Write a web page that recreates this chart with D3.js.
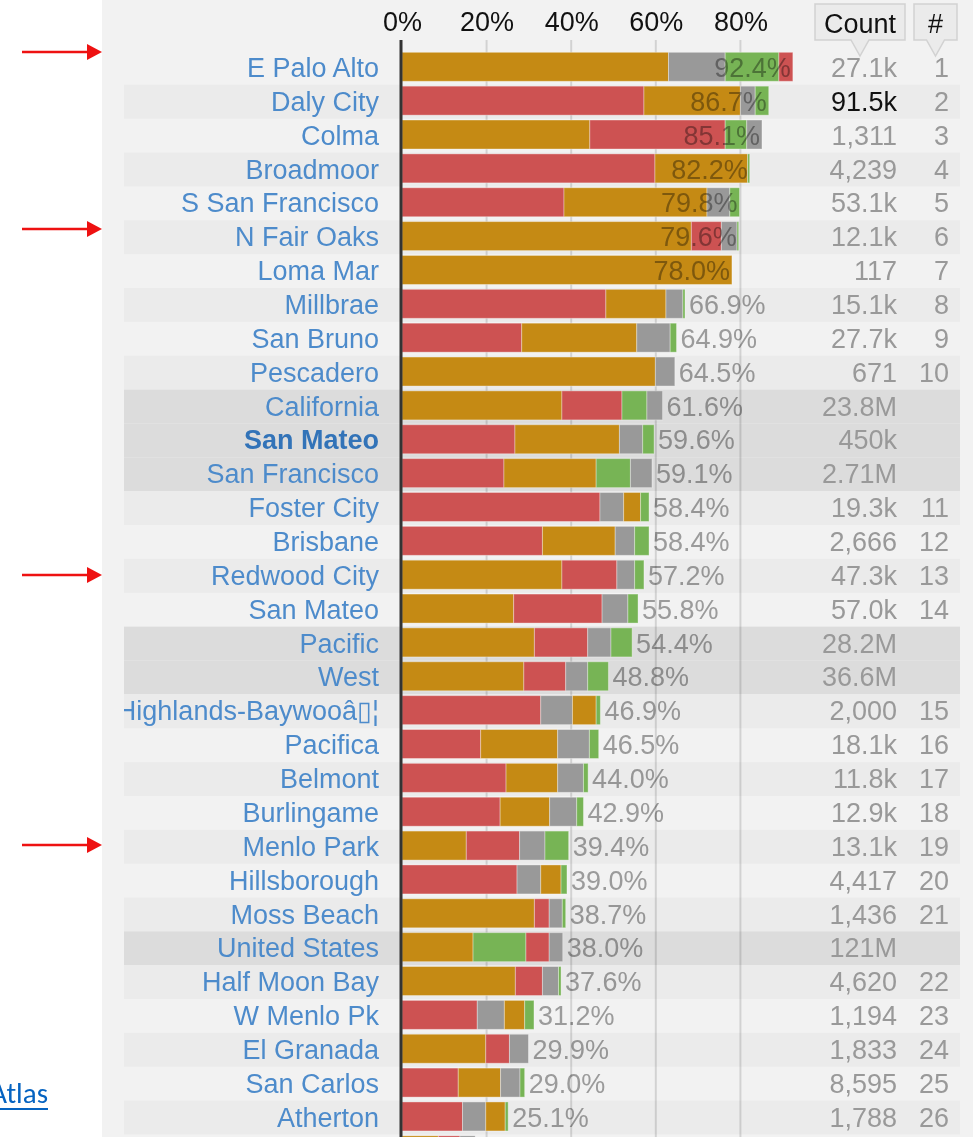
<!DOCTYPE html>
<html>
<head>
<meta charset="utf-8">
<script src="https://cdn.jsdelivr.net/npm/d3@7"></script>
<style>
  html, body { margin: 0; padding: 0; background: #fff; }
  svg { display: block; font-family: "Liberation Sans", Arial, sans-serif; }
</style>
</head>
<body>
<div id="chart"></div>
<script>
// rows, top to bottom
var places = ["E Palo Alto", "Daly City", "Colma", "Broadmoor", "S San Francisco", "N Fair Oaks",
  "Loma Mar", "Millbrae", "San Bruno", "Pescadero", "California", "San Mateo", "San Francisco",
  "Foster City", "Brisbane", "Redwood City", "San Mateo", "Pacific", "West",
  "Highlands-Baywooâ▯¦", "Pacifica", "Belmont", "Burlingame", "Menlo Park", "Hillsborough",
  "Moss Beach", "United States", "Half Moon Bay", "W Menlo Pk", "El Granada", "San Carlos",
  "Atherton", ""];
// "" = place, "agg" = region row, "home" = the county itself
var rowType = ["", "", "", "", "", "", "", "", "", "", "agg", "home", "agg", "", "", "", "", "agg", "agg",
  "", "", "", "", "", "", "", "agg", "", "", "", "", "", ""];

// series shares in percent
var orange = [63.0, 22.8, 44.4, 21.9, 33.8, 68.4, 78.0, 14.2, 27.2, 59.9, 37.8, 24.7, 21.8, 4.0, 17.2, 37.8,
  26.4, 31.3, 28.8, 5.6, 18.2, 12.2, 11.7, 15.2, 4.8, 31.3, 16.8, 26.8, 4.8, 19.8, 10.0, 4.6, 8.6];
var red = [3.3, 57.2, 32.0, 59.8, 38.3, 7.1, 0, 48.2, 28.3, 0, 14.2, 26.7, 24.1, 46.8, 33.2, 13.0,
  20.9, 12.6, 9.9, 32.8, 18.6, 24.6, 23.2, 12.6, 27.2, 3.5, 5.5, 6.4, 17.8, 5.6, 13.3, 14.3, 5.1];
var grey = [13.4, 3.5, 3.6, 0, 5.4, 3.7, 0, 4.0, 7.9, 4.6, 3.7, 5.5, 5.1, 5.6, 4.6, 4.2,
  6.1, 5.5, 5.2, 7.5, 7.5, 6.1, 6.4, 6.0, 5.6, 3.1, 3.2, 3.8, 6.4, 4.5, 4.6, 5.5, 3.6];
var green = [12.7, 3.2, 5.1, 0.5, 2.3, 0.4, 0, 0.5, 1.5, 0, 5.9, 2.7, 8.1, 2.0, 3.4, 2.2,
  2.4, 5.0, 4.9, 1.0, 2.2, 1.1, 1.6, 5.6, 1.4, 0.8, 12.5, 0.6, 2.2, 0, 1.1, 0.7, 0];

var totals = ["92.4%", "86.7%", "85.1%", "82.2%", "79.8%", "79.6%", "78.0%", "66.9%", "64.9%", "64.5%",
  "61.6%", "59.6%", "59.1%", "58.4%", "58.4%", "57.2%", "55.8%", "54.4%", "48.8%", "46.9%", "46.5%",
  "44.0%", "42.9%", "39.4%", "39.0%", "38.7%", "38.0%", "37.6%", "31.2%", "29.9%", "29.0%", "25.1%", ""];
var counts = ["27.1k", "91.5k", "1,311", "4,239", "53.1k", "12.1k", "117", "15.1k", "27.7k", "671",
  "23.8M", "450k", "2.71M", "19.3k", "2,666", "47.3k", "57.0k", "28.2M", "36.6M", "2,000", "18.1k",
  "11.8k", "12.9k", "13.1k", "4,417", "1,436", "121M", "4,620", "1,194", "1,833", "8,595", "1,788", ""];
var ranks = ["1", "2", "3", "4", "5", "6", "7", "8", "9", "10", "", "", "", "11", "12", "13", "14", "", "",
  "15", "16", "17", "18", "19", "20", "21", "", "22", "23", "24", "25", "26", ""];

var ticks = [0, 0.2, 0.4, 0.6, 0.8];
var arrowRows = ["E Palo Alto", "N Fair Oaks", "Redwood City", "Menlo Park"];

var series = [
  {key: "orange", values: orange, color: "#c58a14"},
  {key: "red", values: red, color: "#cd5252"},
  {key: "grey", values: grey, color: "#999999"},
  {key: "green", values: green, color: "#77b455"}
];

var W = 973, H = 1137;
var svg = d3.select("#chart").append("svg").attr("width", W).attr("height", H);

// grey panel
svg.append("rect").attr("x", 102).attr("y", 0).attr("width", W - 102).attr("height", H).attr("fill", "#f2f2f2");

var x = d3.scaleLinear().domain([0, 1]).range([402, 825]);
var y = d3.scaleBand().domain(d3.range(places.length)).range([51, 51 + places.length * 33.86]);

// row backgrounds
svg.append("g").selectAll("rect")
  .data(places)
  .enter().append("rect")
  .attr("x", 124).attr("width", 836)
  .attr("y", function(d, i) { return y(i); })
  .attr("height", y.bandwidth())
  .attr("fill", function(d, i) {
    if (rowType[i] != "") return "#dcdcdc";
    return i % 2 == 1 ? "#ebebeb" : "none";
  });

// gridlines
svg.append("g").selectAll("line")
  .data(ticks.slice(1))
  .enter().append("line")
  .attr("x1", function(d) { return x(d); }).attr("x2", function(d) { return x(d); })
  .attr("y1", 40).attr("y2", H)
  .attr("stroke", "rgba(0,0,0,0.13)").attr("stroke-width", 2);

// axis labels
var axis = svg.append("g").attr("transform", "translate(0,31)")
  .call(d3.axisTop(x).tickValues(ticks).tickFormat(d3.format(".0%")).tickSize(0).tickPadding(0));
axis.select(".domain").remove();
axis.selectAll("text").attr("font-size", 27).attr("fill", "#111").attr("dy", 0)
  .attr("font-family", "'Liberation Sans', Arial, sans-serif");

// stacked bars, segments biggest first
var bars = svg.append("g").selectAll("g")
  .data(places)
  .enter().append("g");

bars.each(function(d, i) {
  var segs = series.map(function(s) { return {v: s.values[i], color: s.color}; })
    .filter(function(s) { return s.v > 0; })
    .sort(function(a, b) { return b.v - a.v; });
  var acc = 0;
  segs.forEach(function(s) { s.x0 = acc; acc += s.v; s.x1 = acc; });
  d3.select(this).selectAll("rect")
    .data(segs)
    .enter().append("rect")
    .attr("x", function(s) { return x(s.x0 / 100); })
    .attr("width", function(s) { return x(s.x1 / 100) - x(s.x0 / 100); })
    .attr("y", y(i) + 1.3)
    .attr("height", 29)
    .attr("fill", function(s) { return s.color; })
    .attr("stroke", "rgba(255,255,255,0.35)")
    .attr("stroke-width", 1);
});

// zero line
svg.append("line")
  .attr("x1", x(0) - 1).attr("x2", x(0) - 1).attr("y1", 40).attr("y2", H)
  .attr("stroke", "#333").attr("stroke-width", 3);

// percent labels
svg.append("g").selectAll("text")
  .data(totals)
  .enter().append("text")
  .each(function(d, i) {
    var end = x((orange[i] + red[i] + grey[i] + green[i]) / 100);
    var t = d3.select(this).text(d)
      .attr("y", y(i) + 26)
      .attr("font-size", 27)
      .attr("fill", "#a3a3a3")
      .style("mix-blend-mode", "multiply");
    var w = this.getComputedTextLength();
    if (end + 4 + w > 790) {
      t.attr("x", end - 2).attr("text-anchor", "end");
    } else {
      t.attr("x", end + 4).attr("text-anchor", "start");
    }
  });

// place names
svg.append("clipPath").attr("id", "lab-clip")
  .append("rect").attr("x", 124).attr("y", 0).attr("width", 270).attr("height", H);

svg.append("g").attr("clip-path", "url(#lab-clip)").selectAll("text")
  .data(places)
  .enter().append("text")
  .attr("x", 379)
  .attr("y", function(d, i) { return y(i) + 26; })
  .attr("text-anchor", "end")
  .attr("font-size", 27)
  .attr("font-weight", function(d, i) { return rowType[i] == "home" ? "bold" : "normal"; })
  .attr("fill", function(d, i) { return rowType[i] == "home" ? "#3273b8" : "#4d8bcb"; })
  .text(function(d) { return d; });

// count column
svg.append("g").selectAll("text")
  .data(counts)
  .enter().append("text")
  .attr("x", 897)
  .attr("y", function(d, i) { return y(i) + 26; })
  .attr("text-anchor", "end")
  .attr("font-size", 27)
  .attr("fill", function(d, i) { return i == 1 ? "#111" : "#999"; })
  .text(function(d) { return d; });

// rank column
svg.append("g").selectAll("text")
  .data(ranks)
  .enter().append("text")
  .attr("x", 949)
  .attr("y", function(d, i) { return y(i) + 26; })
  .attr("text-anchor", "end")
  .attr("font-size", 27)
  .attr("fill", "#999")
  .text(function(d) { return d; });

// header callout boxes
var headers = [{text: "Count", x0: 815, x1: 905}, {text: "#", x0: 914, x1: 957}];
headers.forEach(function(h) {
  var cx = (h.x0 + h.x1) / 2;
  var p = "M" + h.x0 + ",4 H" + h.x1 + " V40 H" + (cx + 9) + " L" + cx + ",56 L" + (cx - 9) + ",40 H" + h.x0 + " Z";
  svg.append("path").attr("d", p).attr("fill", "#ebebeb").attr("stroke", "#d2d2d2").attr("stroke-width", 1.5);
  svg.append("text").attr("x", cx).attr("y", 33).attr("text-anchor", "middle")
    .attr("font-size", 27).attr("fill", "#111").text(h.text);
});

// red annotation arrows
var arrowY = {"E Palo Alto": 52, "N Fair Oaks": 229, "Redwood City": 575, "Menlo Park": 845};
var arrows = svg.append("g").selectAll("g")
  .data(arrowRows)
  .enter().append("g")
  .attr("transform", function(d) { return "translate(0," + arrowY[d] + ")"; });
arrows.append("line").attr("x1", 22).attr("x2", 90).attr("y1", 0).attr("y2", 0)
  .attr("stroke", "#ee1111").attr("stroke-width", 2.5);
arrows.append("path").attr("d", "M87,-8 L102,0 L87,8 Z").attr("fill", "#ee1111");

// source link, cut at left edge like the screenshot
svg.append("text").attr("x", 48).attr("y", 1103).attr("text-anchor", "end")
  .attr("font-size", 29).attr("fill", "#0563c1")
  .attr("font-family", "Carlito, Calibri, 'Liberation Sans', sans-serif")
  .text("Atlas");
svg.append("line").attr("x1", 0).attr("x2", 48).attr("y1", 1109).attr("y2", 1109)
  .attr("stroke", "#0563c1").attr("stroke-width", 2);
</script>
</body>
</html>
